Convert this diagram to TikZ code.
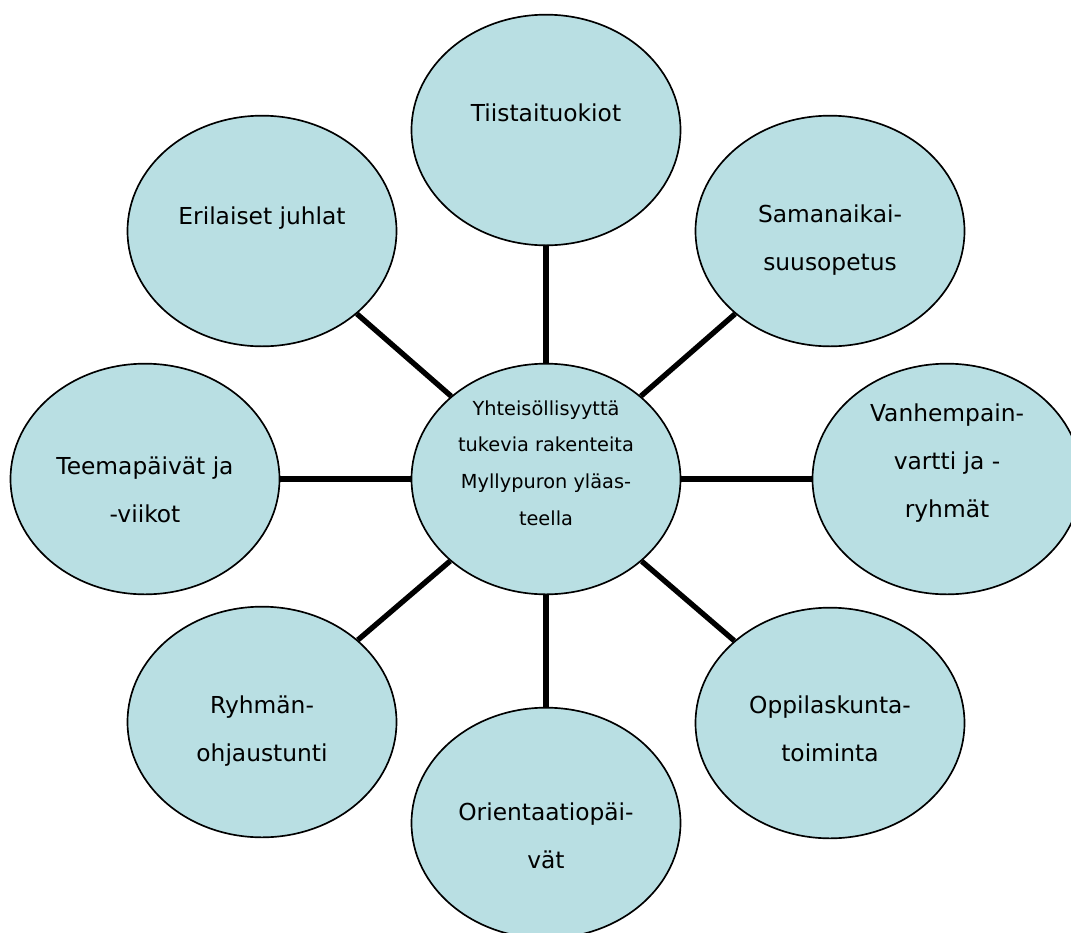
\documentclass[tikz,border=0pt]{standalone}
\usepackage{fontspec}
\setmainfont{DejaVu Sans}
\usetikzlibrary{shapes.geometric}
\definecolor{kuplasin}{RGB}{185,223,227}

\begin{document}
\begin{tikzpicture}[x=0.75pt,y=-0.75pt,
  kupla/.style={ellipse,draw=black,line width=1.25pt,fill=kuplasin,minimum width=201.75pt,minimum height=173pt,inner sep=0pt},
  teksti/.style={align=center,font=\fontsize{17.5}{36}\selectfont},
  pieni/.style={align=center,font=\fontsize{14.5}{27.5}\selectfont},
  yhteys/.style={line width=4pt}]

\useasboundingbox (0,0) rectangle (1071,932);

\node[kupla,label={[pieni,yshift=12pt]center:Yhteisöllisyyttä\\tukevia rakenteita\\Myllypuron yläas-\\teella}] (keski) at (546,479) {};

\node[kupla,label={[teksti,yshift=12.75pt]center:Tiistaituokiot}] (tiistai) at (546,130) {};
\node[kupla,label={[teksti,yshift=-6.75pt]center:Samanaikai-\\suusopetus}] (samanaik) at (830,231) {};
\node[kupla,label={[teksti,yshift=12pt]center:Vanhempain-\\vartti ja -\\ryhmät}] (vanhemp) at (947,479) {};
\node[kupla,label={[teksti,yshift=-4.5pt]center:Oppilaskunta-\\toiminta}] (oppilas) at (830,723) {};
\node[kupla,label={[teksti,yshift=-9.75pt]center:Orientaatiopäi-\\vät}] (orient) at (546,823) {};
\node[kupla,label={[teksti,yshift=-6.75pt]center:Ryhmän-\\ohjaustunti}] (ryhman) at (262,722) {};
\node[kupla,label={[teksti,yshift=-8.25pt]center:Teemapäivät ja\\-viikot}] (teema) at (145,479) {};
\node[kupla,label={[teksti,yshift=9.75pt]center:Erilaiset juhlat}] (juhlat) at (262,231) {};

\draw[yhteys] (keski) -- (tiistai);
\draw[yhteys] (keski) -- (samanaik);
\draw[yhteys] (keski) -- (vanhemp);
\draw[yhteys] (keski) -- (oppilas);
\draw[yhteys] (keski) -- (orient);
\draw[yhteys] (keski) -- (ryhman);
\draw[yhteys] (keski) -- (teema);
\draw[yhteys] (keski) -- (juhlat);

\end{tikzpicture}
\end{document}
